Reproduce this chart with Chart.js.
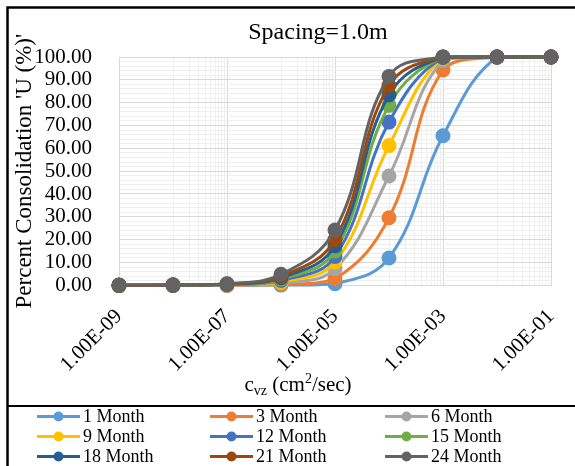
<!DOCTYPE html>
<html>
<head>
<meta charset="utf-8">
<script src="https://cdn.jsdelivr.net/npm/chart.js@4.4.0/dist/chart.umd.min.js"></script>
<style>
  body { margin: 0; background: #fff; }
  #wrap { width: 575px; height: 466px; }
</style>
</head>
<body>
<div id="wrap"><canvas id="consol-chart" width="575" height="466"></canvas></div>
<script>
// coefficient of consolidation values (cm2/sec)
var cvz = [1e-9, 1e-8, 1e-7, 1e-6, 1e-5, 1e-4, 1e-3, 1e-2, 1e-1];
var xLabelTicks = [1e-9, 1e-7, 1e-5, 1e-3, 1e-1];

// percent consolidation for each time
var month1  = [0, 0, 0, 0.1, 0.7, 12.0, 65.5, 99.9, 100];
var month3  = [0, 0, 0, 0.4, 2.9, 29.6, 94.3, 100, 100];
var month6  = [0, 0, 0.1, 0.9, 7.3, 47.9, 98.6, 100, 100];
var month9  = [0, 0, 0.2, 1.5, 10.2, 61.2, 99.5, 100, 100];
var month12 = [0, 0, 0.3, 2.1, 12.6, 71.5, 99.8, 100, 100];
var month15 = [0, 0.1, 0.4, 2.7, 15.0, 78.8, 99.9, 100, 100];
var month18 = [0, 0.1, 0.5, 3.3, 17.3, 83.4, 100, 100, 100];
var month21 = [0, 0.1, 0.6, 3.9, 20.1, 87.5, 100, 100, 100];
var month24 = [0.1, 0.2, 0.7, 4.8, 24.2, 91.5, 100, 100, 100];

var seriesNames = ['1 Month', '3 Month', '6 Month', '9 Month', '12 Month', '15 Month', '18 Month', '21 Month', '24 Month'];
var seriesValues = [month1, month3, month6, month9, month12, month15, month18, month21, month24];
var seriesColors = ['#5B9BD5', '#ED7D31', '#A5A5A5', '#FFC000', '#4472C4', '#70AD47', '#255E91', '#9E480E', '#636363'];

var serif = "'Liberation Serif', 'Times New Roman', serif";

function sciLabel(v) {
    var parts = v.toExponential(2).split('e');
    var e = parseInt(parts[1], 10);
    return parts[0] + 'E' + (e < 0 ? '-' : '+') + String(Math.abs(e)).padStart(2, '0');
}

function isLabelTick(v) {
    return xLabelTicks.some(function(t) { return Math.abs(Math.log10(v) - Math.log10(t)) < 1e-6; });
}

var datasets = seriesNames.map(function(name, i) {
    return {
        label: name,
        data: cvz.map(function(x, j) { return { x: x, y: seriesValues[i][j] }; }),
        borderColor: seriesColors[i],
        backgroundColor: seriesColors[i],
        pointBackgroundColor: seriesColors[i],
        pointBorderColor: seriesColors[i],
        pointRadius: 6,
        pointHoverRadius: 6,
        borderWidth: 3,
        tension: 0.4,
        clip: false,
        order: seriesNames.length - i
    };
});

// title, axis title with sub/superscripts, grid legend and the frame
var excelDecor = {
    id: 'excelDecor',
    afterDraw: function(chart) {
        var ctx = chart.ctx;
        ctx.save();
        ctx.fillStyle = '#000';

        ctx.font = '24px ' + serif;
        ctx.textAlign = 'center';
        ctx.textBaseline = 'alphabetic';
        ctx.fillText('Spacing=1.0m', 318, 39);

        // x axis title: c_vz (cm^2/sec)
        var parts = [
            { t: 'c', size: 21, dy: 0 },
            { t: 'vz', size: 14, dy: 4 },
            { t: ' (cm', size: 21, dy: 0 },
            { t: '2', size: 14, dy: -8 },
            { t: '/sec)', size: 21, dy: 0 }
        ];
        var total = 0;
        parts.forEach(function(p) { ctx.font = p.size + 'px ' + serif; p.w = ctx.measureText(p.t).width; total += p.w; });
        var x = 298 - total / 2;
        ctx.textAlign = 'left';
        parts.forEach(function(p) {
            ctx.font = p.size + 'px ' + serif;
            ctx.fillText(p.t, x, 391 + p.dy);
            x += p.w;
        });

        // legend in three columns
        var colX = [37, 210, 385];
        var rowY = [416.5, 436.5, 456.5];
        ctx.font = '18px ' + serif;
        ctx.textBaseline = 'middle';
        chart.data.datasets.forEach(function(ds, i) {
            var lx = colX[i % 3], ly = rowY[Math.floor(i / 3)];
            ctx.strokeStyle = ds.borderColor;
            ctx.lineWidth = 3;
            ctx.beginPath();
            ctx.moveTo(lx, ly);
            ctx.lineTo(lx + 43, ly);
            ctx.stroke();
            ctx.fillStyle = ds.borderColor;
            ctx.beginPath();
            ctx.arc(lx + 21.5, ly, 5, 0, Math.PI * 2);
            ctx.fill();
            ctx.fillStyle = '#000';
            ctx.fillText(ds.label, lx + 46, ly + 1);
        });

        // frame lines
        ctx.strokeStyle = '#000';
        ctx.lineWidth = 2.5;
        ctx.beginPath();
        ctx.moveTo(7.5, 466);
        ctx.lineTo(7.5, 7.5);
        ctx.lineTo(575, 7.5);
        ctx.stroke();
        ctx.lineWidth = 2;
        ctx.beginPath();
        ctx.moveTo(7, 406);
        ctx.lineTo(575, 406);
        ctx.stroke();
        ctx.restore();
    }
};

var config = {
    type: 'line',
    data: { datasets: datasets },
    options: {
        responsive: false,
        animation: false,
        layout: { padding: { left: 10, right: 24, top: 57, bottom: 70 } },
        plugins: {
            legend: { display: false },
            title: { display: false },
            tooltip: { enabled: false }
        },
        scales: {
            x: {
                type: 'logarithmic',
                min: 1e-9,
                max: 1e-1,
                afterBuildTicks: function(scale) {
                    var ticks = [{ value: 1e-9 }];
                    for (var k = -9; k < -1; k += 2) {
                        for (var n = 1; n <= 10; n++) {
                            ticks.push({ value: n * Math.pow(10, k + 1) });
                        }
                    }
                    scale.ticks = ticks;
                },
                afterFit: function(scale) {
                    scale.paddingLeft = 0;
                    scale.paddingRight = 0;
                },
                ticks: {
                    autoSkip: false,
                    minRotation: 45,
                    maxRotation: 45,
                    padding: 19,
                    color: '#000',
                    font: { family: serif, size: 21 },
                    callback: function(v) { return isLabelTick(v) ? sciLabel(v) : ''; }
                },
                grid: {
                    drawTicks: false,
                    color: function(c) { return c.tick && isLabelTick(c.tick.value) ? '#d9d9d9' : '#efefef'; },
                    lineWidth: 1
                },
                border: { color: '#d9d9d9' }
            },
            y: {
                min: 0,
                max: 100,
                afterFit: function(scale) {
                    scale.width = 109;
                },
                ticks: {
                    stepSize: 2,
                    autoSkip: false,
                    padding: 27,
                    color: '#000',
                    font: { family: serif, size: 21 },
                    callback: function(v) { return v % 10 === 0 ? v.toFixed(2) : ''; }
                },
                grid: {
                    drawTicks: false,
                    color: function(c) { return c.tick && c.tick.value % 10 === 0 ? '#d9d9d9' : '#efefef'; }
                },
                border: { color: '#d9d9d9' },
                title: {
                    display: true,
                    text: "Percent Consolidation 'U (%)'",
                    color: '#000',
                    font: { family: serif, size: 23 },
                    padding: { top: 1, bottom: 0 }
                }
            }
        }
    },
    plugins: [excelDecor]
};

window.onload = function() {
    var consol_ctx = document.getElementById('consol-chart').getContext('2d');
    window.consolLine = new Chart(consol_ctx, config);
};
</script>
</body>
</html>
